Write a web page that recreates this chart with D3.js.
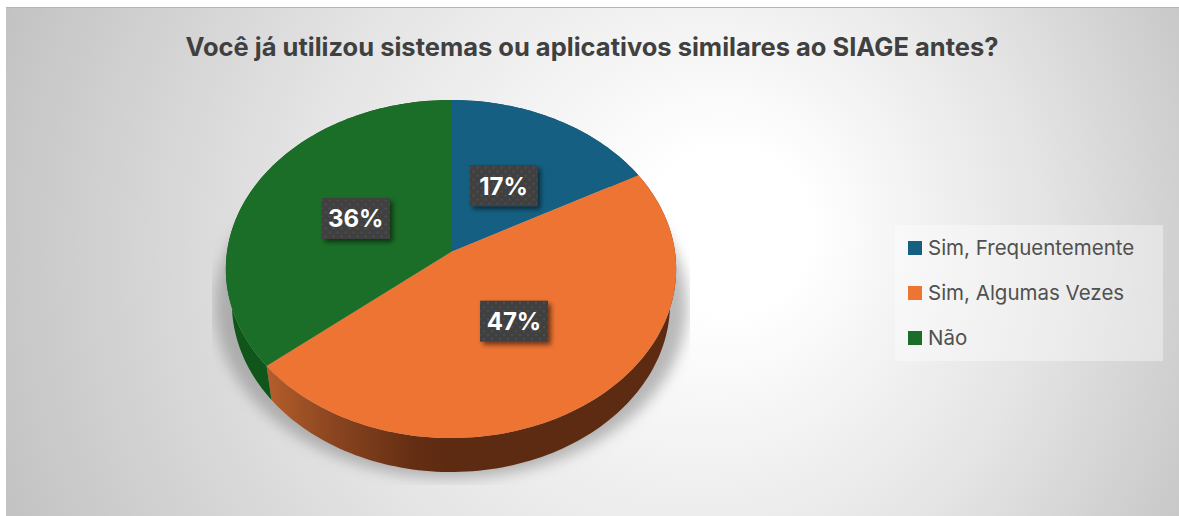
<!DOCTYPE html>
<html><head><meta charset="utf-8">
<script src="https://cdn.jsdelivr.net/npm/d3@7"></script>
<style>html,body{margin:0;padding:0;background:#fff;overflow:hidden}svg{display:block}</style>
</head><body><div id="chart"></div>
<script>
const chartTitle = "Você já utilizou sistemas ou aplicativos similares ao SIAGE antes?";
const categories = ["Sim, Frequentemente", "Sim, Algumas Vezes", "Não"];
const values = [17, 47, 36];

const W = 1179, H = 516;
const color = d3.scaleOrdinal().domain(categories).range(["#156082", "#EE7433", "#1B6E27"]);

// Perspective model of the tilted disc
const cx = 451, hubY = 252, rimA = 224, rimB = 167.3, k = -0.1006;
const ellCy = 269, topRx = 225, botRx = 219, depth = 34;
function project(angle, f) {
  const x = Math.sin(angle) * f, y = -Math.cos(angle) * f, d = 1 + k * y;
  return [cx + rimA * x / d, hubY + rimB * y / d];
}
function bottom(p) {
  return [cx + (p[0] - cx) * botRx / topRx, p[1] + depth];
}
const pie = d3.pie().sort(null).value(d => d);
const arcs = pie(values);
const line = d3.line();
function samples(a) {
  const n = Math.max(8, Math.ceil((a.endAngle - a.startAngle) * 40));
  return d3.range(n + 1).map(i => a.startAngle + (a.endAngle - a.startAngle) * i / n);
}

const svg = d3.select("#chart").append("svg").attr("width", W).attr("height", H);
const defs = svg.append("defs");

const bg = defs.append("radialGradient").attr("id", "bg").attr("gradientUnits", "userSpaceOnUse")
  .attr("cx", 610).attr("cy", 262).attr("r", 680).attr("fx", 745).attr("fy", 225);
[[0, "#ffffff"], [0.12, "#ffffff"], [0.55, "#e4e4e4"], [1, "#c0c0c0"]].forEach(s =>
  bg.append("stop").attr("offset", s[0]).attr("stop-color", s[1]));

const sideO = defs.append("linearGradient").attr("id", "sideOrange").attr("gradientUnits", "userSpaceOnUse")
  .attr("x1", 266).attr("x2", 450).attr("y1", 0).attr("y2", 0);
[[0, "#B55E2B"], [0.35, "#8C4620"], [0.8, "#642E13"], [1, "#5C2B12"]].forEach(s =>
  sideO.append("stop").attr("offset", s[0]).attr("stop-color", s[1]));

defs.append("filter").attr("id", "pieShadow").attr("x", "-20%").attr("y", "-20%").attr("width", "140%").attr("height", "140%")
  .append("feGaussianBlur").attr("stdDeviation", 7);
defs.append("clipPath").attr("id", "shadowClip").append("rect")
  .attr("x", 212).attr("y", 100).attr("width", 478).attr("height", 385);

const dots = defs.append("pattern").attr("id", "dots").attr("patternUnits", "userSpaceOnUse").attr("width", 8).attr("height", 8);
dots.append("rect").attr("width", 8).attr("height", 8).attr("fill", "#404040");
[[2, 2], [6, 6]].forEach(p => dots.append("circle").attr("cx", p[0]).attr("cy", p[1]).attr("r", 0.9).attr("fill", "#545454"));

const boxShadow = defs.append("filter").attr("id", "boxShadow").attr("x", "-20%").attr("y", "-20%").attr("width", "150%").attr("height", "150%");
boxShadow.append("feDropShadow").attr("dx", 3).attr("dy", 3).attr("stdDeviation", 2.5)
  .attr("flood-color", "#000").attr("flood-opacity", 0.55);

// Background
svg.append("rect").attr("x", 6).attr("y", 7).attr("width", W - 6).attr("height", H - 7).attr("fill", "url(#bg)");
svg.append("rect").attr("x", 6).attr("y", 7).attr("width", W - 6).attr("height", 1).attr("fill", "#b4b4b4");

// Title
svg.append("text").attr("x", 592).attr("y", 56).attr("text-anchor", "middle")
  .attr("font-family", "Inter").attr("font-weight", 700).attr("font-size", 25.5)
  .attr("fill", "#404040").text(chartTitle);

// Shadow below the disc
svg.append("g").attr("clip-path", "url(#shadowClip)")
  .append("ellipse").attr("cx", cx).attr("cy", 306).attr("rx", 236).attr("ry", 172)
  .attr("fill", "#8f8f8f").attr("opacity", 0.62).attr("filter", "url(#pieShadow)");

// Extruded side
const sideFill = ["#0E4059", "url(#sideOrange)", "#10551A"];
svg.append("g").selectAll("path").data(arcs).join("path")
  .attr("fill", (d, i) => sideFill[i])
  .attr("d", d => {
    const rim = samples(d).map(a => project(a, 1));
    return line(rim.concat(rim.slice().reverse().map(bottom))) + "Z";
  });

// Top face
svg.append("g").selectAll("path").data(arcs).join("path")
  .attr("fill", (d, i) => color(categories[i]))
  .attr("d", d => line([[cx, hubY]].concat(samples(d).map(a => project(a, 1)))) + "Z");

// Data labels
const labels = svg.append("g").selectAll("g").data(arcs).join("g")
  .attr("transform", d => {
    const p = project((d.startAngle + d.endAngle) / 2, 0.48);
    return `translate(${p[0]},${p[1]})`;
  });
labels.append("rect").attr("x", -34).attr("y", -20.5).attr("width", 68).attr("height", 41)
  .attr("fill", "url(#dots)").attr("filter", "url(#boxShadow)");
labels.append("text").attr("text-anchor", "middle").attr("y", 9)
  .attr("font-family", "Inter").attr("font-weight", 700).attr("font-size", 24)
  .attr("fill", "#fff").text(d => d.value + "%");

// Legend
svg.append("rect").attr("x", 895).attr("y", 225).attr("width", 268).attr("height", 136)
  .attr("fill", "#fff").attr("opacity", 0.38);
const legendY = d3.scalePoint().domain(categories).range([248, 338]);
const leg = svg.append("g").selectAll("g").data(categories).join("g")
  .attr("transform", d => `translate(908,${legendY(d)})`);
leg.append("rect").attr("y", -7).attr("width", 14).attr("height", 14).attr("fill", d => color(d));
leg.append("text").attr("x", 20).attr("y", 7)
  .attr("font-family", "Inter").attr("font-size", 20.5).attr("fill", "#505050").text(d => d);
</script></body></html>
